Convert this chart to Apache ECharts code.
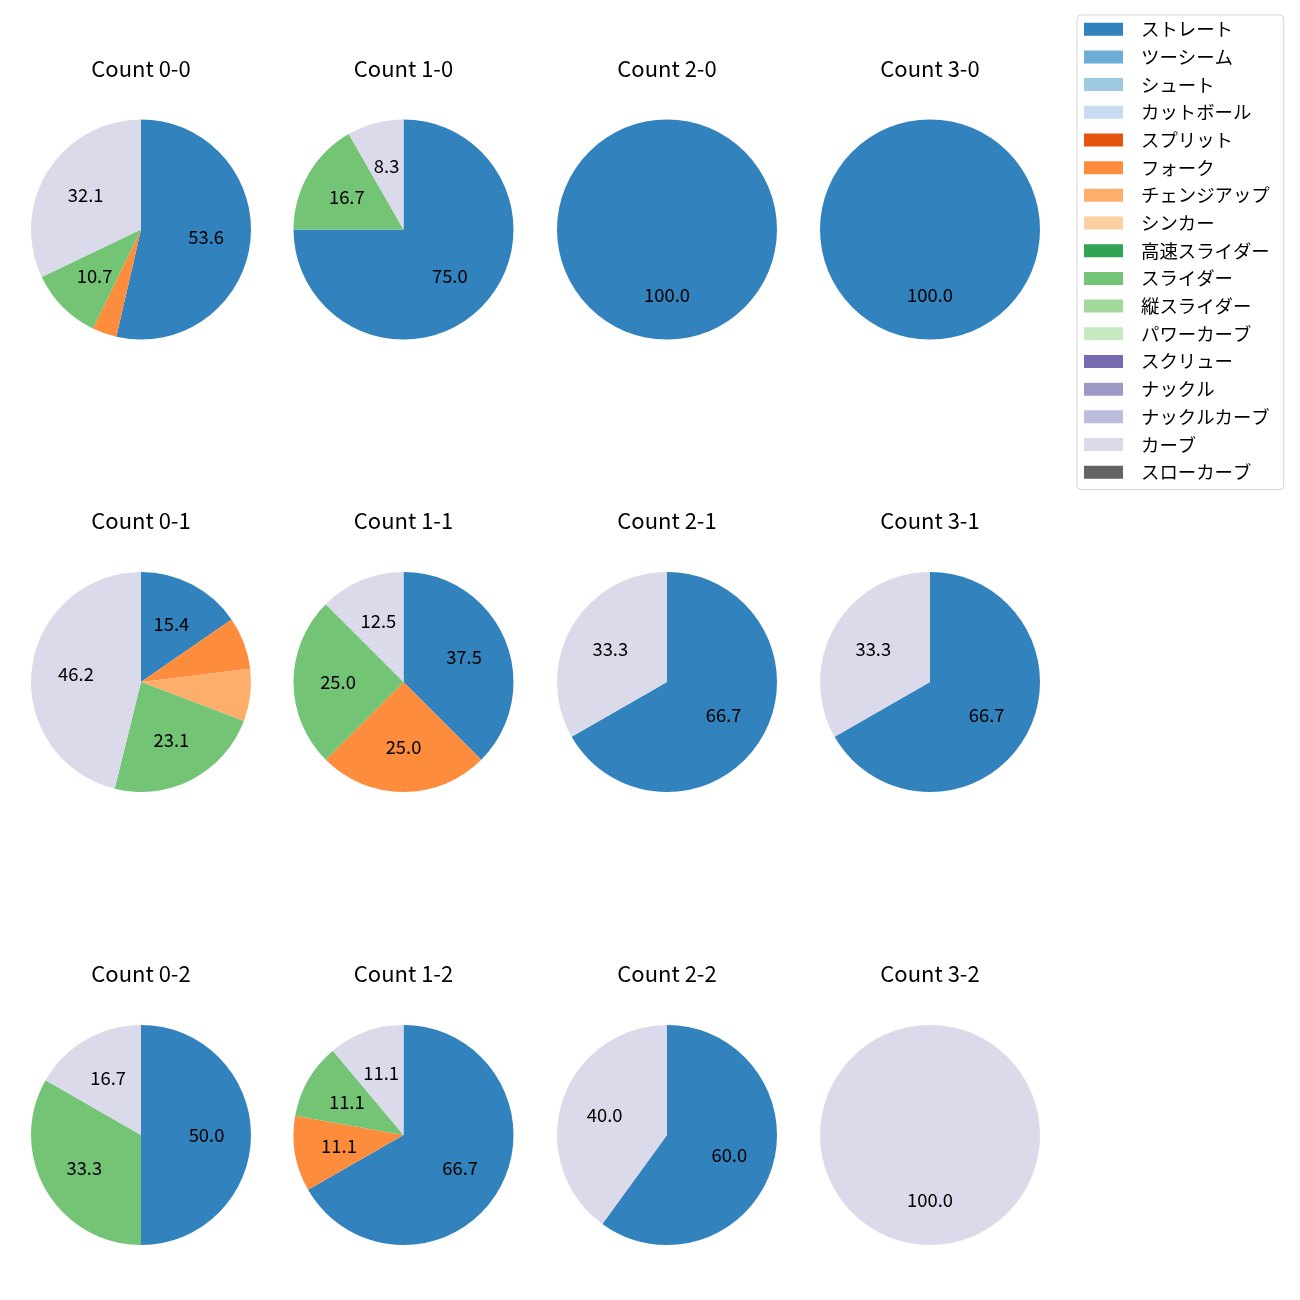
<!DOCTYPE html>
<html><head><meta charset="utf-8">
<script src="https://cdn.jsdelivr.net/npm/echarts@6/dist/echarts.min.js"></script>
<style>html,body{margin:0;padding:0;background:#fff}#c{width:1300px;height:1300px}</style>
</head><body><div id="c"></div>
<script>
const pitchTypes = ['ストレート','ツーシーム','シュート','カットボール','スプリット','フォーク','チェンジアップ','シンカー','高速スライダー','スライダー','縦スライダー','パワーカーブ','スクリュー','ナックル','ナックルカーブ','カーブ','スローカーブ'];
const pitchColors = ['#3182bd','#6baed6','#9ecae1','#c6dbef','#e6550d','#fd8d3c','#fdae6b','#fdd0a2','#31a354','#74c476','#a1d99b','#c7e9c0','#756bb1','#9e9ac8','#bcbddc','#dadaeb','#636363'];
const countLabels = ['0-0','1-0','2-0','3-0','0-1','1-1','2-1','3-1','0-2','1-2','2-2','3-2'];
// percentages per pitch type, in pitchTypes order
const c00 = [53.6,0,0,0,0,3.6,0,0,0,10.7,0,0,0,0,0,32.1,0];
const c10 = [75.0,0,0,0,0,0,0,0,0,16.7,0,0,0,0,0,8.3,0];
const c20 = [100.0,0,0,0,0,0,0,0,0,0,0,0,0,0,0,0,0];
const c30 = [100.0,0,0,0,0,0,0,0,0,0,0,0,0,0,0,0,0];
const c01 = [15.4,0,0,0,0,7.7,7.7,0,0,23.1,0,0,0,0,0,46.2,0];
const c11 = [37.5,0,0,0,0,25.0,0,0,0,25.0,0,0,0,0,0,12.5,0];
const c21 = [66.7,0,0,0,0,0,0,0,0,0,0,0,0,0,0,33.3,0];
const c31 = [66.7,0,0,0,0,0,0,0,0,0,0,0,0,0,0,33.3,0];
const c02 = [50.0,0,0,0,0,0,0,0,0,33.3,0,0,0,0,0,16.7,0];
const c12 = [66.7,0,0,0,0,11.1,0,0,0,11.1,0,0,0,0,0,11.1,0];
const c22 = [60.0,0,0,0,0,0,0,0,0,0,0,0,0,0,0,40.0,0];
const c32 = [0,0,0,0,0,0,0,0,0,0,0,0,0,0,0,100.0,0];
const countValues = [c00,c10,c20,c30,c01,c11,c21,c31,c02,c12,c22,c32];

const FONT = '"Noto Sans CJK JP", "Noto Sans", sans-serif';
const colX = [141, 403.5, 667, 930];
const rowY = [229.5, 682, 1135];
const R = 110;

const series = [];
const titles = [];
countValues.forEach((vals, i) => {
  const cx = colX[i % 4], cy = rowY[Math.floor(i / 4)];
  const data = pitchTypes.map((n, k) => ({ name: n, value: vals[k], itemStyle: { color: pitchColors[k] } }));
  series.push({
    type: 'pie', center: [cx, cy], radius: [0, R], silent: true,
    avoidLabelOverlap: false, itemStyle: { borderWidth: 0 },
    label: { show: false }, labelLine: { show: false }, emphasis: { disabled: true },
    data: data
  });
  series.push({
    type: 'pie', center: [cx, cy], radius: [15, R], silent: true,
    avoidLabelOverlap: false, itemStyle: { color: 'rgba(0,0,0,0)', borderWidth: 0 },
    label: { show: true, position: 'inside', color: '#000', fontFamily: FONT, fontSize: 18.4,
      formatter: p => (p.value >= 8 ? p.value.toFixed(1) : '') },
    labelLine: { show: false }, emphasis: { disabled: true },
    data: pitchTypes.map((n, k) => ({ name: n, value: vals[k] }))
  });
  titles.push({
    text: 'Count ' + countLabels[i], left: cx, top: cy - 160 - 12, textAlign: 'center', padding: 0,
    textStyle: { fontFamily: FONT, fontSize: 22, fontWeight: 'normal', color: '#000' }
  });
});

const chart = echarts.init(document.getElementById('c'), null, { renderer: 'canvas' });
chart.setOption({
  animation: false,
  backgroundColor: '#fff',
  title: titles,
  legend: {
    data: pitchTypes, orient: 'vertical', left: 1077, top: 15, icon: 'rect',
    itemWidth: 39, itemHeight: 13, itemGap: 9.3, selectedMode: false,
    padding: [5, 14, 8, 7], borderColor: '#d4d4d4', borderWidth: 1, borderRadius: 4, backgroundColor: '#fff',
    textStyle: { fontFamily: FONT, fontSize: 18.4, color: '#000', padding: [0, 0, 0, 13], lineHeight: 17.7 }
  },
  series: series
});
</script></body></html>
